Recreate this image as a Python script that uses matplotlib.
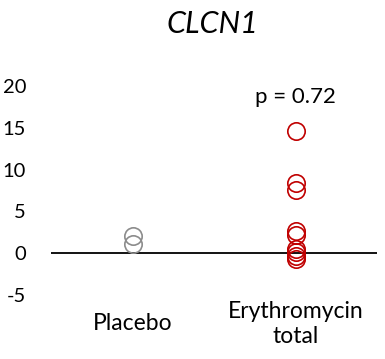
import matplotlib
matplotlib.use("Agg")
import matplotlib.pyplot as plt
import matplotlib.transforms as mtransforms

plt.rcParams['font.family'] = ['Lato', 'DejaVu Sans']

# Data
groups = ["Placebo", "Erythromycin\ntotal"]
placebo = [2.0, 1.1]
erythromycin = [14.6, 8.4, 7.5, 2.6, 2.2, 0.5, 0.1, -0.3, -0.7]
group_colors = ["#8c8c8c", "#c00000"]
y_ticks = [-5, 0, 5, 10, 15, 20]
p_text = "p = 0.72"

fig = plt.figure(figsize=(3.85, 3.59), dpi=100)
ax = fig.add_axes([0.1325, 0.132, 0.847, 0.675])

for i, vals in enumerate([placebo, erythromycin]):
    ax.plot([i + 1] * len(vals), vals, linestyle="none", marker="o",
            markersize=12.5, markerfacecolor="none",
            markeredgecolor=group_colors[i], markeredgewidth=1.2)

ax.axhline(0, color="black", linewidth=1.3, zorder=0)

ax.set_xlim(0.5, 2.5)
ax.set_ylim(-7, 22)
ax.set_yticks(y_ticks)
ax.set_yticklabels([str(t) for t in y_ticks])
ax.tick_params(axis="y", length=0, pad=18, labelsize=14.5)
ax.set_xticks([])
for s in ax.spines.values():
    s.set_visible(False)

trans = mtransforms.blended_transform_factory(ax.transData, fig.transFigure)
for i, g in enumerate(groups):
    ax.text(i + 1, 1 - 324 / 359, g, transform=trans, ha="center",
            va="center", fontsize=16.5, linespacing=1.2)

ax.text(2, 18.7, p_text, ha="center", va="center", fontsize=16)
fig.text(0.551, 1 - 24 / 359, "CLCN1", ha="center", va="center",
         fontsize=22, style="italic")

plt.savefig("out.png", dpi=100)
